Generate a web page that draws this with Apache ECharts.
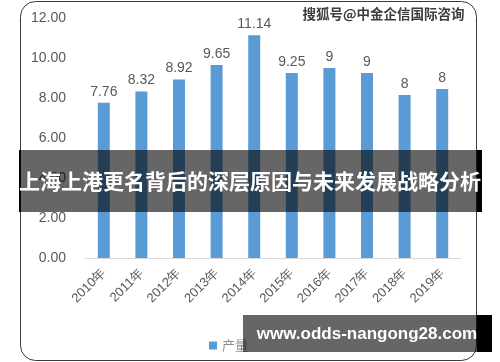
<!DOCTYPE html>
<html>
<head>
<meta charset="utf-8">
<script src="https://cdn.jsdelivr.net/npm/echarts@6/dist/echarts.min.js"></script>
<style>
html,body{margin:0;padding:0;background:#fff;}
#c{width:500px;height:362px;}
</style>
</head>
<body>
<div id="c"></div>
<script>
var categories = ['2010年','2011年','2012年','2013年','2014年','2015年','2016年','2017年','2018年','2019年'];
var values = [7.76, 8.32, 8.92, 9.65, 11.14, 9.25, 9.5, 9.25, 8.15, 8.45];
var valueLabels = ['7.76','8.32','8.92','9.65','11.14','9.25','9','9','8','8'];
var seriesName = '产量';
var yTicks = [0, 2, 4, 6, 8, 10, 12];
var bannerTitle = '上海上港更名背后的深层原因与未来发展战略分析';
var topMark = '搜狐号@中金企信国际咨询';
var siteMark = 'www.odds-nangong28.com';

var chart = echarts.init(document.getElementById('c'), null, {renderer:'canvas'});
var font = '"Liberation Sans", Arial, sans-serif';
var cjk = '"Noto Sans CJK SC", sans-serif';
chart.setOption({
  animation:false,
  backgroundColor:'#fff',
  grid:{left:85, right:39, top:18, bottom:104, containLabel:false},
  legend:{
    data:[seriesName], left:204, top:334, itemWidth:8, itemHeight:8, itemGap:4,
    icon:'rect',
    textStyle:{color:'#8c8c8c', fontSize:13, fontFamily:cjk}
  },
  xAxis:{
    type:'category', data:categories,
    axisLine:{lineStyle:{color:'#d9d9d9', width:1}},
    axisTick:{show:false},
    axisLabel:{rotate:45, color:'#595959', fontSize:13, fontFamily:font, margin:13, interval:0}
  },
  yAxis:{
    type:'value', min:yTicks[0], max:yTicks[yTicks.length-1], interval:2,
    axisLine:{show:false}, axisTick:{show:false},
    splitLine:{show:false},
    axisLabel:{color:'#595959', fontSize:14, fontFamily:font, margin:19,
      formatter:function(v){return v.toFixed(2);}}
  },
  series:[{
    name:seriesName, type:'bar', data:values, barWidth:12,
    itemStyle:{color:'#5b9bd5'},
    label:{show:true, position:'top', distance:4, color:'#595959', fontSize:14, fontFamily:font,
      formatter:function(p){return valueLabels[p.dataIndex];}}
  }],
  graphic:[
    {type:'rect', z:100, shape:{x:20.5, y:1.5, width:456, height:359, r:15}, style:{fill:'none', stroke:'#3a3a3a', lineWidth:1}},
    {type:'text', z:101, left:302, top:7, style:{text:topMark, fill:'#3c3c3c', font:'bold 13.5px '+cjk, stroke:'#fff', lineWidth:1}},
    {type:'rect', z:110, shape:{x:19, y:150, width:458, height:62}, style:{fill:'rgba(0,0,0,0.6)'}},
    {type:'rect', z:110, shape:{x:477, y:150, width:5, height:62}, style:{fill:'#000'}},
    {type:'rect', z:110, shape:{x:19, y:150, width:1.5, height:62}, style:{fill:'#000'}},
    {type:'text', z:111, x:250, y:181, style:{text:bannerTitle, fill:'#fff', font:'bold 21px '+cjk, align:'center', verticalAlign:'middle'}},
    {type:'rect', z:110, shape:{x:243, y:315, width:234, height:37}, style:{fill:'rgba(0,0,0,0.6)'}},
    {type:'rect', z:110, shape:{x:477, y:315, width:15, height:37}, style:{fill:'#000'}},
    {type:'text', z:111, x:367, y:334, style:{text:siteMark, fill:'#fff', font:'bold 17px "Liberation Sans", Arial, sans-serif', align:'center', verticalAlign:'middle'}}
  ]
});
</script>
</body>
</html>
